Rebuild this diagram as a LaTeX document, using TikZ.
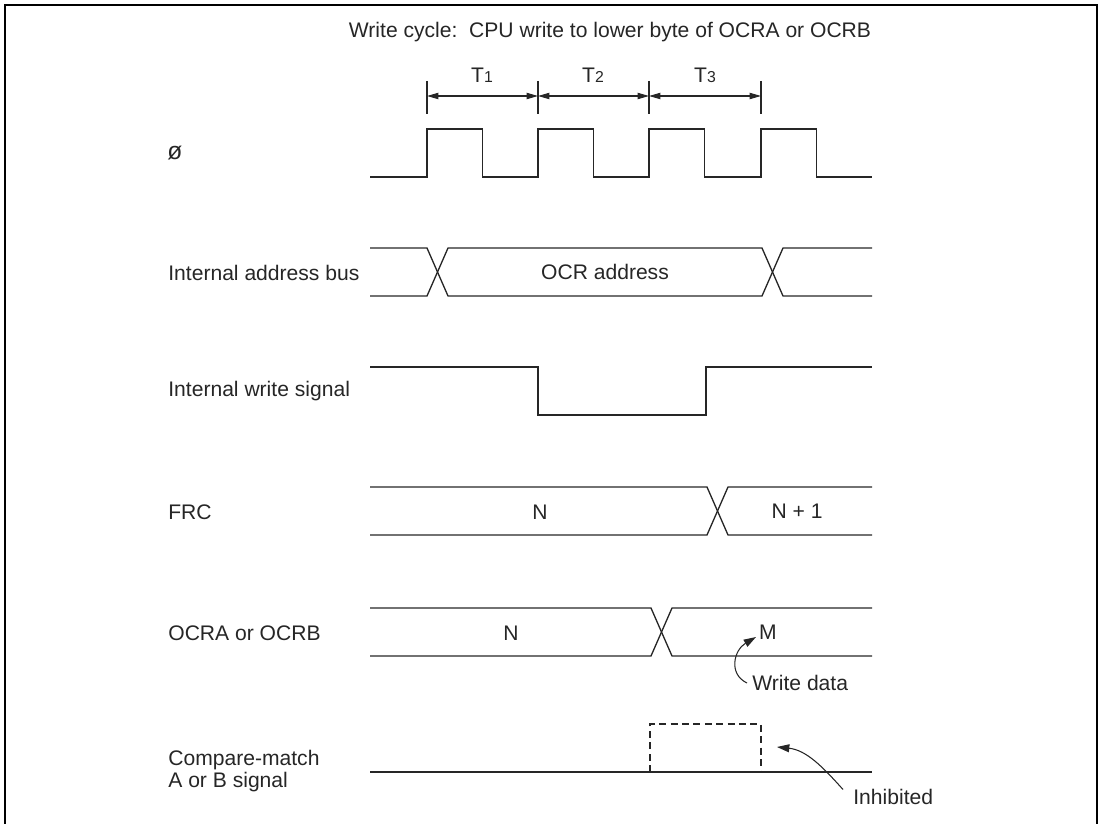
\documentclass[tikz,border=0pt]{standalone}
\usepackage{fontspec}
\setmainfont{Liberation Sans}
\usetikzlibrary{arrows.meta}
\newcommand{\tsub}[1]{T{\fontsize{9}{9}\selectfont #1}}

\begin{document}
\begin{tikzpicture}[x=0.02cm, y=-0.02cm,
    sig/.style={line width=0.75pt, black!85},
    lbl/.style={anchor=west, inner sep=0pt, font=\fontsize{12}{12.5}\selectfont, text=black!85},
    txt/.style={inner sep=0pt, font=\fontsize{12}{12.5}\selectfont, text=black!85},
    dim/.style={{Triangle[length=6.5pt,width=3.6pt]}-{Triangle[length=6.5pt,width=3.6pt]}, line width=0.6pt, black!85},
    pointer/.style={-{Triangle[length=7pt,width=4.5pt]}, line width=0.6pt, black!85}]
    \useasboundingbox (0,0) rectangle (1099,824);
    % --- Frame (open at the bottom) ---
    \draw[line width=1.15pt] (5,830) -- (5,5) -- (1097,5) -- (1097,830);
    % --- Title ---
    \node[txt] (title) at (610,32) {Write cycle:\ \ CPU write to lower byte of OCRA or OCRB};
    % --- Cycle ticks and T labels ---
    \foreach \x [count=\i from 0] in {427,538,649,761}{
      \draw[sig] (\x,81) -- (\x,114);
      \coordinate (e\i) at (\x,96);
    }
    \draw[dim] (e0) -- (e1);
    \draw[dim] (e1) -- (e2);
    \draw[dim] (e2) -- (e3);
    \node[txt] (t1) at (482,75) {\tsub{1}};
    \node[txt] (t2) at (593,75) {\tsub{2}};
    \node[txt] (t3) at (705,75) {\tsub{3}};
    % --- Signal names ---
    \node[lbl, font=\fontsize{14}{14}\selectfont] (phi) at (167,153) {ø};
    \node[lbl] (abus) at (168,273) {Internal address bus};
    \node[lbl] (wr) at (168,391) {Internal write signal};
    \node[lbl] (frc) at (168,512) {FRC};
    \node[lbl] (ocr) at (168,633) {OCRA or OCRB};
    \node[lbl, align=left] (cmp) at (168,771) {Compare-match\\A or B signal};
    % --- Clock ---
    \draw[sig] (370,177)
      \foreach \x in {427,538,649,761}{ -- (\x,177) -- (\x,129) -- (\x+55.5,129) -- (\x+55.5,177) }
      -- (872,177);
    % --- Internal address bus ---
    \draw[sig] (370,248) -- (427,248) -- (448,296) -- (762,296) -- (783,248) -- (872,248);
    \draw[sig] (370,296) -- (427,296) -- (448,248) -- (762,248) -- (783,296) -- (872,296);
    \node[txt] (addr) at (605,272) {OCR address};
    % --- Internal write signal ---
    \draw[sig] (370,367) -- (538,367) -- (538,415) -- (706,415) -- (706,367) -- (872,367);
    % --- FRC ---
    \draw[sig] (370,487) -- (707,487) -- (728,535) -- (872,535);
    \draw[sig] (370,535) -- (707,535) -- (728,487) -- (872,487);
    \node[txt] (frcn) at (540,512) {N};
    \node[txt] (frcn1) at (797,511) {N + 1};
    % --- OCRA / OCRB ---
    \draw[sig] (370,608) -- (651,608) -- (672,656) -- (872,656);
    \draw[sig] (370,656) -- (651,656) -- (672,608) -- (872,608);
    \node[txt] (ocrn) at (511,633) {N};
    \node[txt] (ocrm) at (768,632) {M};
    \node[lbl] (wd) at (752,683) {Write data};
    \coordinate (mtip) at (756,637);
    \draw[pointer] ([xshift=-0.1cm]wd.west) .. controls (728,674) and (734,650) .. (mtip);
    % --- Compare-match signal ---
    \draw[sig] (370,772) -- (872,772);
    \draw[sig, dashed, dash pattern=on 4pt off 2.5pt] (650,772) -- (650,724) -- (761,724) -- (761,772);
    \node[lbl] (inh) at (853,797) {Inhibited};
    \coordinate (itip) at (777,747);
    \draw[pointer] ([xshift=-0.2cm,yshift=0.15cm]inh.west) .. controls (822,766) and (806,750) .. (itip);
\end{tikzpicture}
\end{document}
